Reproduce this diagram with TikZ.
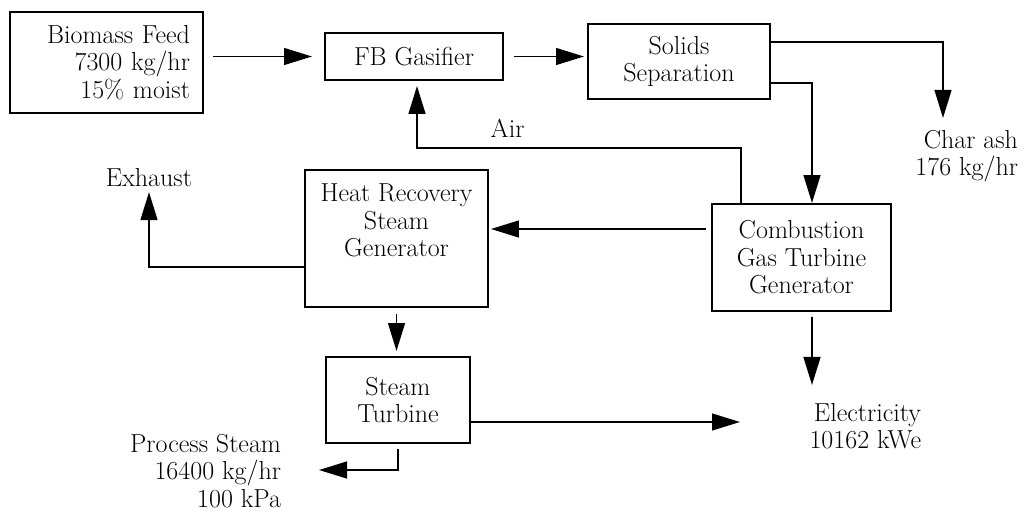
\documentclass[tikz,border=0pt]{standalone}
\usepackage{tikz}
\usetikzlibrary{positioning, arrows.meta, calc}
\tikzset{
  unit/.style={
    draw=black,
    line width=1.4pt,
    align=center,
    font=\fontsize{18.5}{19.5}\selectfont,
    inner sep=3pt
  },
  stream/.style={
    align=right,
    font=\fontsize{18.5}{19.5}\selectfont
  },
  flow/.style={
    -{Triangle[length=0.7cm, width=0.42cm]},
    line width=1.4pt
  }
}

\begin{document}
\begin{tikzpicture}
  \useasboundingbox (0,0) rectangle (25.6,-12.8);

  % process units
  \node[unit, minimum width=4.825cm, minimum height=2.525cm, text width=4.175cm, inner xsep=0.325cm, align=right] (feed) at (2.6625,-1.5625) {Biomass Feed\\7300 kg/hr\\15\% moist};
  \node[unit, minimum width=4.45cm, minimum height=1.175cm] (gasifier) at (10.35,-1.4125) {FB Gasifier};
  \node[unit, minimum width=4.55cm, minimum height=1.875cm] (solids) at (16.975,-1.5375) {Solids\\Separation};
  \node[unit, minimum width=4.475cm, minimum height=2.675cm] (combustion) at (20.0375,-6.4375) {Combustion\\Gas Turbine\\Generator};
  \node[unit, minimum width=4.575cm, minimum height=3.425cm] (hrsg) at (9.9125,-5.9625) {};
  \node[stream, align=center] (hrsg text) at ([yshift=0.45cm]hrsg.center) {Heat Recovery\\Steam\\Generator};
  \node[unit, minimum width=3.6cm, minimum height=2.15cm] (turbine) at (9.95,-10) {Steam\\Turbine};

  % streams
  \node[stream, anchor=east] (charash) at (25.575,-3.9) {Char ash\\176 kg/hr};
  \node[stream] (exhaust) at (3.725,-4.45) {Exhaust};
  \node[stream] (air) at (12.69,-3.2) {Air};
  \node[stream, anchor=east] (elec) at (23.15,-10.65) {Electricity\\10162 kWe};
  \node[stream, anchor=east] (process) at (7.15,-11.775) {Process Steam\\16400 kg/hr\\100 kPa};

  \coordinate (ash end) at (23.575,-2.95);
  \coordinate (air turn) at (10.425,-3.7);
  \coordinate (elec in) at (18.5,-10.55);
  \coordinate (elec top) at (20.3,-9.625);
  \coordinate (process in) at (7.975,-11.75);

  % connectors
  \draw[flow, shorten <=0.225cm, shorten >=0.3cm] (feed.east |- gasifier.west) -- (gasifier.west);
  \draw[flow, shorten <=0.25cm, shorten >=0.075cm] (gasifier.east) -- (gasifier.east -| solids.west);
  \draw[flow] ([yshift=0.4875cm]solids.east) -| (ash end);
  \draw[flow] ([yshift=-0.5375cm]solids.east) -| ([xshift=0.2625cm]combustion.north);
  \draw[flow, shorten >=0.125cm] ([xshift=-1.5125cm]combustion.north) |- (air turn) -- (air turn |- gasifier.south);
  \draw[flow, shorten <=0.125cm, shorten >=0.05cm] ([yshift=0.7125cm]combustion.west) -- ([yshift=0.7125cm]combustion.west -| hrsg.east);
  \draw[flow] ([yshift=-0.7125cm]hrsg.west) -| (exhaust.south);
  \draw[flow, shorten <=0.15cm, shorten >=0.125cm] (hrsg.south) -- (hrsg.south |- turbine.north);
  \draw[flow] ([yshift=-0.55cm]turbine.east) -- (elec in);
  \draw[flow, shorten <=0.125cm] ([xshift=0.2625cm]combustion.south) -- (elec top);
  \draw[flow, shorten <=0.125cm] (turbine.south) |- (process in);
\end{tikzpicture}
\end{document}
